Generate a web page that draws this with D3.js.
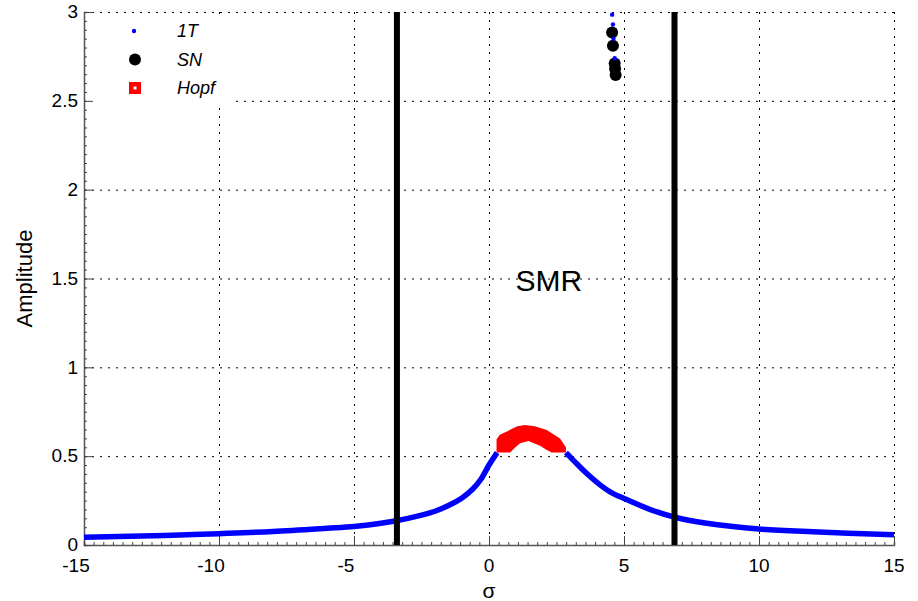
<!DOCTYPE html>
<html>
<head>
<meta charset="utf-8">
<script src="https://cdn.jsdelivr.net/npm/d3@7"></script>
<style>
    body { margin: 0; background: #fff; }
    svg { display: block; font-family: Arial, 'Liberation Sans', sans-serif; }
</style>
</head>
<body>
<div id="chart"></div>
<script>
// Data
const xTicks = [-15, -10, -5, 0, 5, 10, 15]
const yTicks = [0, 0.5, 1, 1.5, 2, 2.5, 3]

// 1T branch, split where the Hopf band covers it
const leftSigma = [-15, -12, -10, -8, -6, -5, -4, -3, -2, -1.5, -1, -0.6, -0.3, 0, 0.3]
const leftAmp = [0.044, 0.054, 0.064, 0.076, 0.094, 0.104, 0.122, 0.15, 0.19, 0.222, 0.265, 0.315, 0.37, 0.45, 0.52]
const rightSigma = [2.85, 3.2, 3.6, 4.1, 4.5, 5, 6, 7, 8, 10, 12, 15]
const rightAmp = [0.52, 0.465, 0.405, 0.34, 0.298, 0.262, 0.198, 0.152, 0.124, 0.09, 0.074, 0.058]

// Hopf band (upper and lower edge)
const hopfUpperSigma = [0.28, 0.4, 0.78, 1.05, 1.33, 1.7, 2.14, 2.63, 2.85]
const hopfUpperAmp = [0.595, 0.62, 0.648, 0.668, 0.675, 0.669, 0.647, 0.6, 0.55]
const hopfLowerSigma = [2.85, 2.32, 2.14, 1.89, 1.46, 1.15, 0.96, 0.78, 0.28]
const hopfLowerAmp = [0.52, 0.52, 0.535, 0.558, 0.585, 0.573, 0.548, 0.52, 0.52]

// isolated branch near sigma = 4.6
const isoSigma = [4.56, 4.59, 4.61, 4.655]
const isoAmp = [2.985, 2.93, 2.85, 2.74]
const snSigma = [4.56, 4.59, 4.655, 4.67, 4.69]
const snAmp = [2.885, 2.81, 2.71, 2.68, 2.645]

// SMR boundaries
const boundarySigma = [-3.41, 6.87]

const legendItems = ['1T', 'SN', 'Hopf']

// Presentation
const width = 918
const height = 601
const margin = { top: 12, right: 24, bottom: 56, left: 84 }
const chartWidth = width - margin.left - margin.right
const chartHeight = height - margin.top - margin.bottom

const svg = d3.select('#chart').append('svg')
    .attr('width', width)
    .attr('height', height)

// Scale
const x = d3.scaleLinear().domain([-15, 15]).range([0, chartWidth])
const y = d3.scaleLinear().domain([0, 3]).range([chartHeight, 0])

const plot = svg.append('g')
    .attr('transform', `translate(${margin.left}, ${margin.top})`)

// Grid
const grid = plot.append('g')
    .attr('stroke', '#000')
    .attr('stroke-width', 1)
    .attr('stroke-dasharray', '2,6')
grid.selectAll('line.vx')
    .data(xTicks.slice(1))
    .join('line')
    .attr('x1', d => x(d) + 0.5).attr('x2', d => x(d) + 0.5)
    .attr('y1', 0).attr('y2', chartHeight)
grid.selectAll('line.hy')
    .data(yTicks.slice(1))
    .join('line')
    .attr('y1', d => y(d) + 0.5).attr('y2', d => y(d) + 0.5)
    .attr('x1', 0).attr('x2', chartWidth)

// Legend background hides the grid
plot.append('rect')
    .attr('x', 1).attr('y', 2)
    .attr('width', 147).attr('height', 88)
    .attr('fill', '#fff')

// Axes
const xMinor = d3.range(-15, 15.001, 5 / 14)
const yMinor = d3.range(0, 3.001, 0.05)

plot.append('g')
    .attr('transform', `translate(0, ${chartHeight})`)
    .call(d3.axisTop(x).tickValues(xMinor).tickSize(3).tickFormat(''))
plot.append('g')
    .call(d3.axisRight(y).tickValues(yMinor).tickSize(3).tickFormat(''))
plot.append('g')
    .attr('transform', `translate(0, ${chartHeight})`)
    .call(d3.axisTop(x).tickValues(xTicks).tickSize(9).tickFormat(''))
    .call(g => g.select('.domain').remove())
plot.append('g')
    .call(d3.axisRight(y).tickValues(yTicks).tickSize(9).tickFormat(''))
    .call(g => g.select('.domain').remove())

plot.selectAll('.domain').attr('stroke', '#555').attr('stroke-width', 1.5)
plot.selectAll('.tick line').attr('stroke', '#444')

// Tick labels
plot.append('g')
    .selectAll('text')
    .data(xTicks)
    .join('text')
    .attr('x', d => x(d) - (d < 0 ? 8 : 0))
    .attr('y', chartHeight + 27)
    .attr('text-anchor', 'middle')
    .attr('font-size', 19)
    .text(d => d)
plot.append('g')
    .selectAll('text')
    .data(yTicks)
    .join('text')
    .attr('x', -6)
    .attr('y', d => y(d))
    .attr('dy', '0.33em')
    .attr('text-anchor', 'end')
    .attr('font-size', 19)
    .text(d => d)

// Axis titles
svg.append('text')
    .attr('x', margin.left + x(0))
    .attr('y', 598)
    .attr('text-anchor', 'middle')
    .attr('font-size', 21)
    .text('σ')
svg.append('text')
    .attr('transform', `translate(32, ${margin.top + chartHeight / 2}) rotate(-90)`)
    .attr('text-anchor', 'middle')
    .attr('font-size', 22)
    .text('Amplitude')

// Trends
const line = d3.line()
    .x(d => x(d[0]))
    .y(d => y(d[1]))
    .curve(d3.curveCatmullRom)

const branches = [
    d3.zip(leftSigma, leftAmp),
    d3.zip(rightSigma, rightAmp)
]
plot.append('g')
    .selectAll('path')
    .data(branches)
    .join('path')
    .attr('d', line)
    .attr('fill', 'none')
    .attr('stroke', '#0000ff')
    .attr('stroke-width', 5.5)

const hopfPoints = [
    ...d3.zip(hopfUpperSigma, hopfUpperAmp),
    ...d3.zip(hopfLowerSigma, hopfLowerAmp)
]
plot.append('path')
    .attr('d', d3.line().x(d => x(d[0])).y(d => y(d[1])).curve(d3.curveLinearClosed)(hopfPoints))
    .attr('fill', '#ff0000')

// SMR boundaries
plot.append('g')
    .selectAll('line')
    .data(boundarySigma)
    .join('line')
    .attr('x1', d => x(d)).attr('x2', d => x(d))
    .attr('y1', 0).attr('y2', chartHeight)
    .attr('stroke', '#000')
    .attr('stroke-width', 6)

// Isolated points
plot.append('g')
    .selectAll('circle')
    .data(d3.zip(snSigma, snAmp))
    .join('circle')
    .attr('cx', d => x(d[0]))
    .attr('cy', d => y(d[1]))
    .attr('r', 6)
    .attr('fill', '#000')
plot.append('g')
    .selectAll('circle')
    .data(d3.zip(isoSigma, isoAmp))
    .join('circle')
    .attr('cx', d => x(d[0]))
    .attr('cy', d => y(d[1]))
    .attr('r', 2.2)
    .attr('fill', '#0000ff')

plot.append('text')
    .attr('x', x(2.22))
    .attr('y', y(1.43))
    .attr('text-anchor', 'middle')
    .attr('font-size', 30)
    .text('SMR')

// Legend
const legend = plot.append('g')
    .selectAll('g')
    .data(legendItems)
    .join('g')
    .attr('transform', (d, i) => `translate(0, ${19 + i * 28.5})`)
legend.append('text')
    .attr('x', 93)
    .attr('dy', '0.36em')
    .attr('font-size', 18)
    .attr('font-style', 'italic')
    .text(d => d)
legend.each(function(d) {
    const g = d3.select(this)
    if (d === '1T') {
        g.append('circle').attr('cx', 50).attr('r', 2.2).attr('fill', '#0000ff')
    } else if (d === 'SN') {
        g.append('circle').attr('cx', 51).attr('r', 6).attr('fill', '#000')
    } else {
        g.append('rect').attr('x', 45).attr('y', -6).attr('width', 12).attr('height', 12).attr('fill', '#ff0000')
        g.append('rect').attr('x', 49.5).attr('y', -1.5).attr('width', 3).attr('height', 3).attr('fill', '#fff')
    }
})
</script>
</body>
</html>
